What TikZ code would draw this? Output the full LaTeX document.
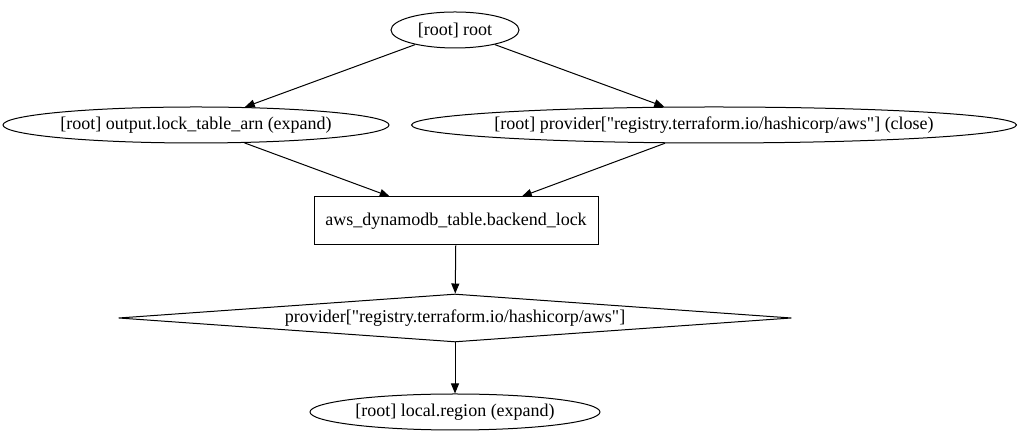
\documentclass[tikz,border=0pt]{standalone}
\usepackage{fontspec}
\setmainfont{Liberation Serif}[Ligatures=TeXOff]
\usetikzlibrary{shapes.geometric, arrows.meta}

\begin{document}
\begin{tikzpicture}[x=1pt, y=1pt, line width=1pt]

\def\W{1024} % width of the picture
\def\H{443}  % height of the picture
\def\ry{18}  % half height of the ellipses

% text of zero width, so the outline keeps its given size
\newcommand{\lbl}[1]{\makebox[0pt]{#1}}

\tikzset{oval/.style = {draw, ellipse, inner sep=0pt, minimum height=2*\ry,
                        font=\fontsize{18}{20}\selectfont},
         box/.style  = {draw, rectangle, inner sep=0pt, minimum width=284,
                        minimum height=48, font=\fontsize{18}{20}\selectfont},
         rhomb/.style = {draw, diamond, shape aspect=14.02, inner sep=0pt,
                        minimum width=673, minimum height=48,
                        font=\fontsize{18}{20}\selectfont},
         edge/.style = {-{Triangle[length=10pt, width=8pt]}}
        }

\useasboundingbox (0,0) rectangle (\W,\H);

% nodes of the graph
\node[oval, minimum width=128] (root) at (455, \H-30) {\lbl{[root] root}};
\node[oval, minimum width=386] (out)  at (196, \H-125) {\lbl{[root] output.lock\_table\_arn (expand)}};
\node[oval, minimum width=605] (close) at (714, \H-125)
    {\lbl{[root] provider["registry.terraform.io/hashicorp/aws"] (close)}};
\node[box] (lock) at (456, \H-221) {aws\_dynamodb\_table.backend\_lock};
\node[rhomb] (aws) at (455, \H-318) {\lbl{provider["registry.terraform.io/hashicorp/aws"]}};
\node[oval, minimum width=290] (region) at (455, \H-412) {\lbl{[root] local.region (expand)}};

% dependencies
\draw[edge] (root) -- (out);
\draw[edge] (root) -- (close);
\draw[edge] (out) -- (lock);
\draw[edge] (close) -- (lock);
\draw[edge] (lock) -- (aws);
\draw[edge] (aws) -- (region);

\end{tikzpicture}
\end{document}
